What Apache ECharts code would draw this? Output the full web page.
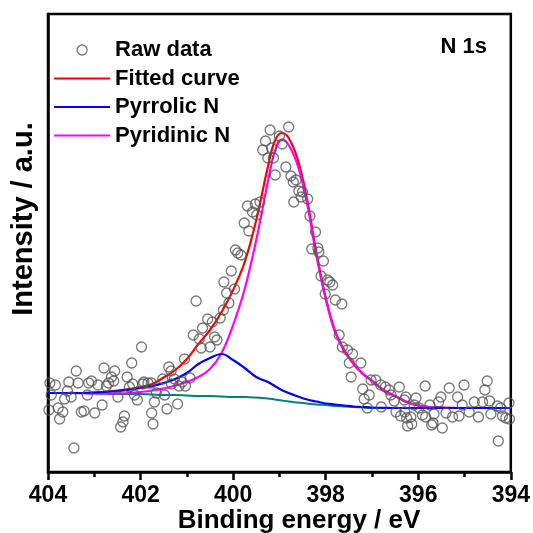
<!DOCTYPE html>
<html>
<head>
<meta charset="utf-8">
<script src="https://cdn.jsdelivr.net/npm/echarts@6/dist/echarts.min.js"></script>
<style>html,body{margin:0;padding:0;background:#fff;}#c{width:533px;height:533px;}</style>
</head>
<body>
<div id="c"></div>
<script>
// Raw data (binding energy, eV) and intensity (a.u.)
const rawEnergy = [403.98,403.96,403.93,403.84,403.78,403.75,403.68,403.64,403.58,403.55,403.50,403.44,403.39,403.35,403.28,403.22,403.15,403.12,403.06,402.99,402.92,402.83,402.79,402.74,402.69,402.63,402.58,402.56,402.49,402.43,402.38,402.35,402.29,402.24,402.19,402.17,402.13,402.07,401.98,401.95,401.93,401.84,401.77,401.76,401.73,401.70,401.66,401.52,401.48,401.43,401.39,401.34,401.33,401.27,401.20,401.17,401.10,401.05,401.03,400.93,400.86,400.80,400.73,400.69,400.66,400.55,400.50,400.45,400.40,400.35,400.28,400.21,400.20,400.14,400.09,400.04,399.97,399.95,399.90,399.83,399.76,399.69,399.66,399.58,399.52,399.49,399.42,399.36,399.30,399.25,399.20,399.17,399.13,399.09,399.00,398.94,398.86,398.80,398.75,398.70,398.69,398.64,398.58,398.53,398.50,398.39,398.34,398.30,398.22,398.17,398.15,398.10,398.05,398.01,397.96,397.91,397.85,397.79,397.71,397.65,397.64,397.53,397.49,397.45,397.42,397.24,397.20,397.17,397.10,397.06,397.02,396.92,396.81,396.80,396.71,396.63,396.59,396.52,396.48,396.41,396.38,396.30,396.29,396.27,396.25,396.23,396.16,396.14,396.09,396.05,395.98,395.91,395.85,395.84,395.75,395.71,395.68,395.66,395.56,395.51,395.48,395.40,395.33,395.26,395.15,395.12,395.05,395.01,394.90,394.79,394.70,394.61,394.56,394.51,394.46,394.43,394.29,394.27,394.22,394.18,394.11,394.04,394.03];
const rawIntensity = [62,89,77,87,64,53,60,73,81,90,75,24,101,89,60,61,77,89,91,59,87,67,104,86,89,95,91,101,75,45,50,56,95,85,109,88,77,72,125,88,90,89,89,59,48,70,79,93,77,63,105,101,88,93,68,86,90,113,86,94,137,171,133,124,144,153,125,150,135,132,154,162,190,179,169,201,183,222,219,217,249,266,241,260,268,257,270,322,331,314,342,324,314,297,336,328,305,345,296,290,270,292,281,275,280,273,256,223,240,224,220,196,211,178,192,190,187,172,137,168,125,122,109,95,118,109,83,73,64,77,92,92,87,65,85,82,77,71,60,85,56,72,60,75,54,46,55,48,67,74,64,57,86,55,67,47,49,58,70,75,44,59,84,55,75,56,67,87,60,70,55,70,82,91,71,58,66,31,64,56,54,69,53];

// Fitted curves, read at common energies
const curveEnergy = [404,403.5,403,402.5,402,401.75,401.5,401.25,401,400.75,400.5,400.25,400,399.75,399.5,399.25,399.1,398.95,398.8,398.6,398.4,398.2,398,397.8,397.6,397.4,397.2,397,396.75,396.5,396.25,396,395.5,395,394.5,394];
const fittedCurve = [79,79,79.5,81.5,85,88,94.5,102,113,128,142,160,182,210,252,305,331,339,334,312,272,219,174.5,141.5,122,108.5,98.5,91.5,82,76,70,66.5,64.3,64,64,64];
const pyrrolicN = [79,79,79.5,81,84,86,89,93,99,108,114,118,112,104,95,90,86,82,79,75.5,72.5,70.5,68.5,67.5,66.5,65.5,65,64.5,64.2,64,64,64,64,64,64,64];
const pyridinicN = [79,79,78.5,78.5,80,81.5,83.5,86.5,90,95,103,119,147,183,232,290,320,332,327,306,268,216,173,140,121,108,98,91,82,76,70,66.5,64.3,64,64,64];
const background = [79,79,78.5,78,78,77.5,77,77,76.5,76,76,75.5,75,75,74.5,73.5,72.5,71.5,70.5,69.5,68.5,67.5,67,66,65.5,65,64.5,64,64,64,64,64,64,64,64,64];

const xTicks = [394,396,398,400,402,404];

const FONT = '"Liberation Sans", Arial, sans-serif';
const pairs = (ys) => curveEnergy.map((e, i) => [e, ys[i]]);
const lineLegend = (name, color) => ({name: name, itemStyle: {opacity: 0}, lineStyle: {color: color, width: 2.2, opacity: 1}});

const chart = echarts.init(document.getElementById('c'), null, {renderer: 'canvas'});
chart.setOption({
  backgroundColor: '#fff',
  animation: false,
  grid: {left: 48, right: 21, top: 14, bottom: 61, show: true, borderColor: '#000', borderWidth: 2.5, backgroundColor: 'transparent'},
  legend: {
    orient: 'vertical', left: 53, top: 39, padding: 0, itemGap: 6.5,
    itemWidth: 56, itemHeight: 10,
    textStyle: {fontFamily: FONT, fontWeight: 'bold', fontSize: 22, color: '#000', lineHeight: 22},
    data: [
      {name: 'Raw data', icon: 'circle', itemStyle: {color: 'rgba(255,255,255,0)', borderColor: '#555', borderWidth: 1.3}},
      lineLegend('Fitted curve', '#ff0000'),
      lineLegend('Pyrrolic N', '#0000ff'),
      lineLegend('Pyridinic N', '#ff00ff')
    ]
  },
  xAxis: {
    type: 'value', inverse: true, min: 394, max: 404, interval: 2,
    axisLine: {lineStyle: {color: '#000', width: 2.5}},
    axisTick: {show: true, inside: false, length: 8, lineStyle: {color: '#000', width: 2.5}},
    minorTick: {show: true, splitNumber: 2, length: 5, lineStyle: {color: '#000', width: 2.5}},
    splitLine: {show: false}, minorSplitLine: {show: false},
    axisLabel: {fontFamily: FONT, fontWeight: 'bold', fontSize: 23, color: '#000', margin: 12,
      formatter: (v) => xTicks.includes(v) ? String(v) : ''}
  },
  yAxis: {
    type: 'value', min: 0, max: 458,
    axisLine: {show: true, lineStyle: {color: '#000', width: 2.5}},
    axisTick: {show: false}, axisLabel: {show: false}, splitLine: {show: false}
  },
  graphic: [
    {type: 'text', right: 46, top: 36, style: {text: 'N 1s', font: 'bold 22px ' + FONT, fill: '#000'}},
    {type: 'text', x: 24, y: 219, rotation: Math.PI / 2,
      style: {text: 'Intensity / a.u.', font: 'bold 29px ' + FONT, fill: '#000', textAlign: 'center', textVerticalAlign: 'middle'}},
    {type: 'text', x: 299, y: 521,
      style: {text: 'Binding energy / eV', font: 'bold 26px ' + FONT, fill: '#000', textAlign: 'center', textVerticalAlign: 'middle'}}
  ],
  series: [
    {name: 'Background', type: 'line', data: pairs(background), smooth: 0.4, showSymbol: false, symbol: 'none',
      lineStyle: {color: '#008080', width: 2}, z: 2},
    {name: 'Fitted curve', type: 'line', data: pairs(fittedCurve), smooth: 0.4, showSymbol: false, symbol: 'none',
      lineStyle: {color: '#ff0000', width: 2.2}, itemStyle: {color: '#ff0000'}, z: 3},
    {name: 'Pyridinic N', type: 'line', data: pairs(pyridinicN), smooth: 0.4, showSymbol: false, symbol: 'none',
      lineStyle: {color: '#ff00ff', width: 2.2}, itemStyle: {color: '#ff00ff'}, z: 4},
    {name: 'Pyrrolic N', type: 'line', data: pairs(pyrrolicN), smooth: 0.4, showSymbol: false, symbol: 'none',
      lineStyle: {color: '#0000ff', width: 2.2}, itemStyle: {color: '#0000ff'}, z: 5},
    {name: 'Raw data', type: 'scatter', data: rawEnergy.map((e, i) => [e, rawIntensity[i]]),
      symbol: 'circle', symbolSize: 10,
      itemStyle: {color: 'rgba(255,255,255,0)', borderColor: '#555', borderWidth: 1.3}, z: 6}
  ]
});
</script>
</body>
</html>
